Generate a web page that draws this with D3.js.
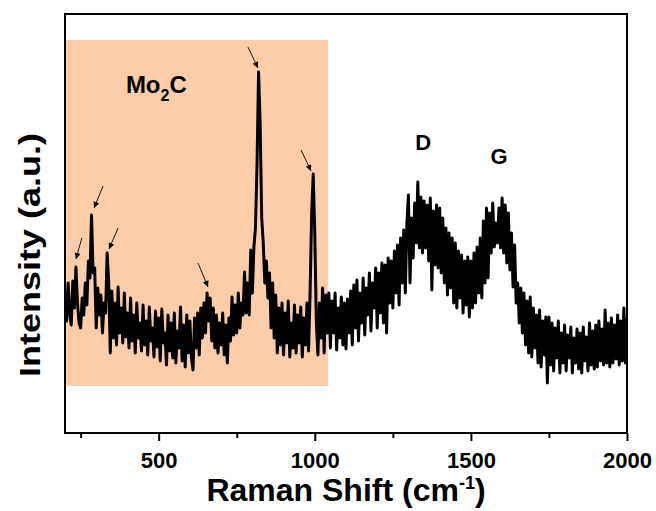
<!DOCTYPE html>
<html>
<head>
<meta charset="utf-8">
<script src="https://cdn.jsdelivr.net/npm/d3@7"></script>
<style>
  body { margin: 0; background: #fff; }
  text { font-family: "Liberation Sans", Arial, sans-serif; font-weight: bold; fill: #000; }
</style>
</head>
<body>
<svg id="chart"></svg>
<script>
const shiftStart = 200;
const shiftEnd = 2000;
const shiftStep = 5;
const intensity = [
  140, 112, 150, 120, 108, 152, 125, 166, 130, 110,
  105, 135, 118, 150, 128, 172, 155, 218, 160, 165,
  105, 145, 118, 138, 100, 130, 120, 180, 150, 80,
  142, 95, 130, 88, 146, 100, 125, 90, 140, 96,
  120, 85, 135, 92, 118, 80, 130, 95, 110, 82,
  128, 88, 112, 78, 126, 92, 105, 76, 122, 86,
  115, 72, 124, 90, 100, 68, 118, 82, 110, 75,
  120, 70, 102, 85, 126, 72, 108, 66, 118, 80,
  112, 75, 63, 115, 85, 120, 78, 125, 95, 130,
  100, 140, 112, 135, 92, 125, 85, 118, 80, 110,
  88, 120, 78, 108, 70, 115, 92, 136, 98, 128,
  100, 140, 105, 130, 118, 161, 120, 150, 118, 183,
  140, 186, 205, 268, 361, 310, 215, 190, 150, 172,
  135, 160, 105, 150, 95, 138, 80, 125, 88, 130,
  78, 120, 90, 132, 76, 110, 85, 128, 80, 118,
  90, 126, 76, 115, 88, 130, 82, 140, 220, 259,
  200, 110, 78, 130, 95, 145, 80, 138, 100, 140,
  85, 132, 100, 140, 83, 125, 95, 136, 88, 130,
  84, 134, 100, 142, 88, 148, 105, 153, 92, 140,
  110, 155, 98, 145, 118, 160, 102, 150, 125, 165,
  105, 160, 120, 170, 110, 168, 100, 175, 130, 172,
  125, 182, 140, 188, 128, 195, 150, 203, 140, 210,
  238, 150, 215, 175, 230, 190, 251, 185, 236, 180,
  232, 185, 228, 172, 235, 143, 222, 168, 228, 165,
  225, 160, 215, 150, 205, 138, 200, 145, 195, 130,
  190, 125, 182, 135, 178, 120, 172, 128, 176, 116,
  172, 125, 180, 130, 186, 140, 195, 135, 212, 150,
  225, 155, 220, 180, 230, 186, 210, 190, 225, 185,
  235, 180, 228, 170, 220, 163, 200, 146, 188, 130,
  150, 110, 145, 100, 140, 88, 132, 80, 136, 76,
  125, 85, 118, 70, 123, 66, 112, 78, 116, 50,
  116, 68, 110, 62, 105, 75, 112, 60, 100, 70,
  108, 62, 98, 75, 106, 60, 95, 70, 104, 64,
  100, 60, 106, 72, 96, 62, 110, 68, 102, 64,
  108, 66, 112, 72, 104, 68, 123, 70, 110, 66,
  115, 70, 108, 74, 118, 68, 112, 72, 125, 70,
  115
];

const majorTicks = [500, 1000, 1500, 2000];
const minorTicks = [250, 750, 1250, 1750];
const intensityMax = 419;

// shaded Mo2C region: [shift from, shift to], [intensity from, intensity to]
const mo2cShift = [200, 1042];
const mo2cIntensity = [47, 393];

// arrows marking Mo2C peaks: [x1, y1, x2, y2] in data units
const peakArrows = [
  [254, 195, 235, 174],
  [322, 247, 293, 225],
  [370, 205, 341, 184],
  [626, 170, 658, 146],
  [786, 386, 818, 365],
  [956, 283, 988, 262],
];

const bandLabels = [
  { text: "D", x: 1347, y: 283 },
  { text: "G", x: 1590, y: 269 },
];

class RamanChart {
  constructor(svg, width = 656, height = 511, margin = { top: 14, right: 29, bottom: 78, left: 65 }) {
    this.svg = d3.select(svg);
    this.width = width;
    this.height = height;
    this.margin = margin;
    this.innerW = width - margin.left - margin.right;
    this.innerH = height - margin.top - margin.bottom;
  }

  draw() {
    const m = this.margin;
    this.svg.attr("width", this.width).attr("height", this.height);

    const shifts = d3.range(shiftStart, shiftEnd + 1, shiftStep);
    const data = intensity.map((v, i) => [shifts[i], v]);

    this.x = d3.scaleLinear().domain([shiftStart, shiftEnd]).range([0, this.innerW]);
    this.y = d3.scaleLinear().domain([0, intensityMax]).range([this.innerH, 0]);

    const defs = this.svg.append("defs");
    defs.append("clipPath").attr("id", "plot-clip")
      .append("rect").attr("width", this.innerW).attr("height", this.innerH);
    defs.append("marker")
      .attr("id", "arrowhead")
      .attr("viewBox", "0 0 10 10")
      .attr("refX", 10).attr("refY", 5)
      .attr("markerWidth", 9).attr("markerHeight", 6)
      .attr("markerUnits", "userSpaceOnUse")
      .attr("orient", "auto")
      .append("path").attr("d", "M0,0L10,5L0,10z").attr("fill", "#000");

    const g = this.svg.append("g").attr("transform", `translate(${m.left},${m.top})`);

    g.append("rect")
      .attr("x", this.x(mo2cShift[0]))
      .attr("y", this.y(mo2cIntensity[1]))
      .attr("width", this.x(mo2cShift[1]) - this.x(mo2cShift[0]))
      .attr("height", this.y(mo2cIntensity[0]) - this.y(mo2cIntensity[1]))
      .attr("fill", "#fbcda9");

    const line = d3.line().x((d) => this.x(d[0])).y((d) => this.y(d[1]));
    g.append("path")
      .datum(data)
      .attr("clip-path", "url(#plot-clip)")
      .attr("fill", "none")
      .attr("stroke", "#000")
      .attr("stroke-width", 3)
      .attr("stroke-linejoin", "round")
      .attr("d", line);

    g.selectAll(".peak-arrow")
      .data(peakArrows)
      .join("line")
      .attr("class", "peak-arrow")
      .attr("x1", (d) => this.x(d[0]))
      .attr("y1", (d) => this.y(d[1]))
      .attr("x2", (d) => this.x(d[2]))
      .attr("y2", (d) => this.y(d[3]))
      .attr("stroke", "#000")
      .attr("stroke-width", 0.9)
      .attr("marker-end", "url(#arrowhead)");

    // Mo2C label
    const mo = g.append("text")
      .attr("x", this.x(395))
      .attr("y", this.y(340))
      .attr("font-size", 24);
    mo.append("tspan").text("Mo");
    mo.append("tspan").attr("dy", 8).attr("font-size", 16).text("2");
    mo.append("tspan").attr("dy", -8).text("C");

    g.selectAll(".band-label")
      .data(bandLabels)
      .join("text")
      .attr("class", "band-label")
      .attr("x", (d) => this.x(d.x))
      .attr("y", (d) => this.y(d.y))
      .attr("text-anchor", "middle")
      .attr("font-size", 22)
      .text((d) => d.text);

    // bottom axis: major and minor ticks
    const xAxis = g.append("g")
      .attr("transform", `translate(0,${this.innerH})`)
      .call(d3.axisBottom(this.x).tickValues(majorTicks).tickFormat(d3.format("d"))
        .tickSize(8).tickSizeOuter(0).tickPadding(11));
    xAxis.select(".domain").remove();
    xAxis.selectAll("line").attr("stroke-width", 2);
    xAxis.selectAll("text")
      .attr("font-size", 22)
      .attr("font-family", "'Liberation Sans', Arial, sans-serif")
      .attr("font-weight", "bold");

    const xMinor = g.append("g")
      .attr("transform", `translate(0,${this.innerH})`)
      .call(d3.axisBottom(this.x).tickValues(minorTicks).tickSize(5).tickFormat(""));
    xMinor.select(".domain").remove();
    xMinor.selectAll("line").attr("stroke-width", 2);

    // frame
    g.append("rect")
      .attr("width", this.innerW)
      .attr("height", this.innerH)
      .attr("fill", "none")
      .attr("stroke", "#000")
      .attr("stroke-width", 2);

    // axis titles
    const xt = this.svg.append("text")
      .attr("x", m.left + this.innerW / 2)
      .attr("y", 501)
      .attr("text-anchor", "middle")
      .attr("font-size", 32);
    xt.append("tspan").text("Raman Shift (cm");
    xt.append("tspan").attr("dy", -12).attr("font-size", 18).text("-1");
    xt.append("tspan").attr("dy", 12).text(")");

    this.svg.append("text")
      .attr("transform", "translate(40,255) rotate(-90)")
      .attr("text-anchor", "middle")
      .attr("font-size", 30)
      .attr("textLength", 244)
      .attr("lengthAdjust", "spacingAndGlyphs")
      .text("Intensity (a.u.)");
  }
}

const chart = new RamanChart(document.getElementById("chart"));
chart.draw();
</script>
</body>
</html>
